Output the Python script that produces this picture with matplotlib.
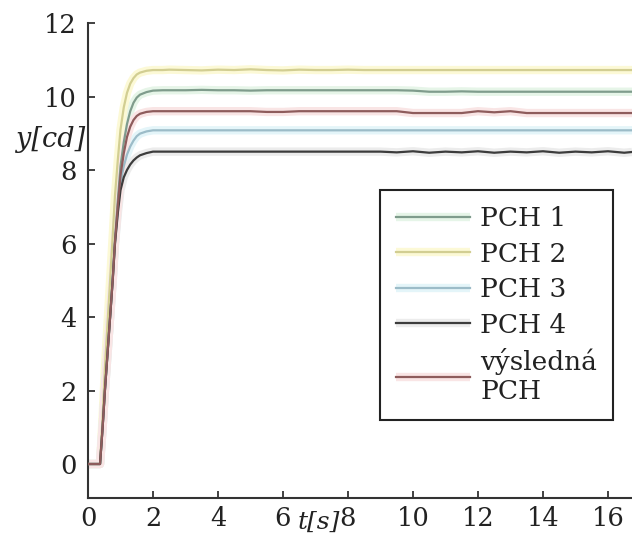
import matplotlib
matplotlib.use("Agg")
import matplotlib.pyplot as plt
from matplotlib.legend_handler import HandlerTuple

# Time axis of the step responses [s]
t_rise = [0.0, 0.37, 0.45, 0.52, 0.60, 0.68, 0.76, 0.83, 0.92, 1.00, 1.10,
          1.20, 1.30, 1.40, 1.50, 1.60, 1.80, 2.00, 2.30]
t_flat = [2.5, 3.0, 3.5, 4.0, 4.5, 5.0, 5.5, 6.0, 6.5, 7.0, 7.5, 8.0, 8.5,
          9.0, 9.5, 10.0, 10.5, 11.0, 11.5, 12.0, 12.5, 13.0, 13.5, 14.0,
          14.5, 15.0, 15.5, 16.0, 16.5, 16.74]

# Luminous intensity y [cd] for each transfer characteristic
pch1 = [0.0, 0.0, 1.0, 2.0, 3.0, 4.0, 5.05, 6.1, 7.2, 8.1, 8.75,
        9.25, 9.6, 9.83, 9.97, 10.05, 10.12, 10.16, 10.17,
        10.17, 10.17, 10.18, 10.17, 10.17, 10.16, 10.17, 10.17, 10.17, 10.17,
        10.17, 10.17, 10.17, 10.17, 10.17, 10.16, 10.13, 10.13, 10.14, 10.13,
        10.13, 10.13, 10.13, 10.13, 10.13, 10.13, 10.13, 10.13, 10.13, 10.13]
pch2 = [0.0, 0.0, 1.3, 2.6, 3.8, 5.0, 6.2, 7.3, 8.3, 9.1, 9.7,
        10.1, 10.35, 10.5, 10.6, 10.65, 10.7, 10.72, 10.72,
        10.73, 10.72, 10.71, 10.73, 10.72, 10.74, 10.72, 10.71, 10.73, 10.72,
        10.72, 10.73, 10.72, 10.72, 10.72, 10.72, 10.72, 10.72, 10.72, 10.72,
        10.72, 10.72, 10.72, 10.72, 10.72, 10.72, 10.72, 10.72, 10.72, 10.72]
pch3 = [0.0, 0.0, 1.0, 2.0, 3.0, 4.0, 5.0, 6.0, 6.95, 7.65, 8.1,
        8.42, 8.64, 8.8, 8.92, 8.99, 9.05, 9.08, 9.08,
        9.08, 9.08, 9.08, 9.08, 9.08, 9.08, 9.08, 9.08, 9.08, 9.08,
        9.08, 9.08, 9.08, 9.08, 9.08, 9.08, 9.08, 9.08, 9.08, 9.08,
        9.08, 9.08, 9.08, 9.08, 9.08, 9.08, 9.08, 9.08, 9.08, 9.08]
pch4 = [0.0, 0.0, 1.0, 2.0, 3.0, 4.0, 5.0, 6.0, 6.85, 7.45, 7.8,
        8.0, 8.15, 8.26, 8.34, 8.4, 8.46, 8.5, 8.5,
        8.5, 8.5, 8.5, 8.5, 8.5, 8.5, 8.5, 8.5, 8.5, 8.5,
        8.5, 8.5, 8.5, 8.5, 8.48, 8.51, 8.47, 8.5, 8.48, 8.51,
        8.47, 8.5, 8.48, 8.51, 8.47, 8.5, 8.48, 8.51, 8.47, 8.49]
vysledna = [0.0, 0.0, 1.0, 2.0, 3.0, 4.0, 5.0, 6.05, 7.05, 7.85, 8.45,
            8.9, 9.18, 9.36, 9.47, 9.53, 9.58, 9.6, 9.6,
            9.6, 9.6, 9.6, 9.6, 9.6, 9.6, 9.58, 9.58, 9.6, 9.6,
            9.6, 9.6, 9.6, 9.6, 9.6, 9.55, 9.55, 9.55, 9.55, 9.6,
            9.57, 9.6, 9.55, 9.55, 9.55, 9.55, 9.55, 9.55, 9.55, 9.55]

labels = ["PCH 1", "PCH 2", "PCH 3", "PCH 4", "výsledná\nPCH"]
x_ticks = [0, 2, 4, 6, 8, 10, 12, 14, 16]
y_ticks = [0, 2, 4, 6, 8, 10, 12]

line_colors = ["#7f9c8c", "#d2ce92", "#9cbcc8", "#3c3c3c", "#8e5c5c"]
halo_colors = ["#e6f5e8", "#fcf9d6", "#e4f5f9", "#ececec", "#f9e5e5"]

plt.rcParams["font.family"] = ["DejaVu Serif"]

fig = plt.figure(figsize=(6.32, 5.38), dpi=100)
ax = fig.add_axes([88 / 632, 40 / 538, 544 / 632, 475 / 538])

t = t_rise + t_flat
series = [pch1, pch2, pch3, pch4, vysledna]

handles = []
for ys, lc, hc in zip(series, line_colors, halo_colors):
    halo, = ax.plot(t, ys, color=hc, lw=6, solid_capstyle="butt", zorder=1)
    line, = ax.plot(t, ys, color=lc, lw=1.6, zorder=3)
    handles.append((halo, line))

ax.set_xlim(0, 16.74)
ax.set_ylim(-0.925, 12)
ax.set_xticks(x_ticks)
ax.set_yticks(y_ticks)
ax.tick_params(direction="in", length=5, width=1.3, color="#333333",
               labelsize=18.5, labelcolor="#222222")
ax.tick_params(axis="y", pad=8)
ax.tick_params(axis="x", pad=6)

for side in ("top", "right"):
    ax.spines[side].set_visible(False)
for side in ("left", "bottom"):
    ax.spines[side].set_linewidth(1.5)
    ax.spines[side].set_color("#333333")

ax.text(-0.005, 0.754, "y[cd]", transform=ax.transAxes, ha="right",
        va="center", fontsize=19.5, style="italic", color="#222222")
ax.text(0.424, -0.052, "t[s]", transform=ax.transAxes, ha="center",
        va="center", fontsize=18, style="italic", color="#222222")

leg = ax.legend(handles, labels, handler_map={tuple: HandlerTuple(ndivide=1, pad=0)},
                loc="upper left", bbox_to_anchor=(0.537, 0.648),
                fontsize=19, frameon=True, fancybox=False, framealpha=1,
                edgecolor="#222222", borderpad=0.6, handlelength=2.8,
                handletextpad=0.4, labelspacing=0.4, borderaxespad=0)
leg.get_frame().set_linewidth(1.5)
for txt in leg.get_texts():
    txt.set_color("#222222")
    txt.set_linespacing(1.2)

fig.savefig("out.png", dpi=100)
